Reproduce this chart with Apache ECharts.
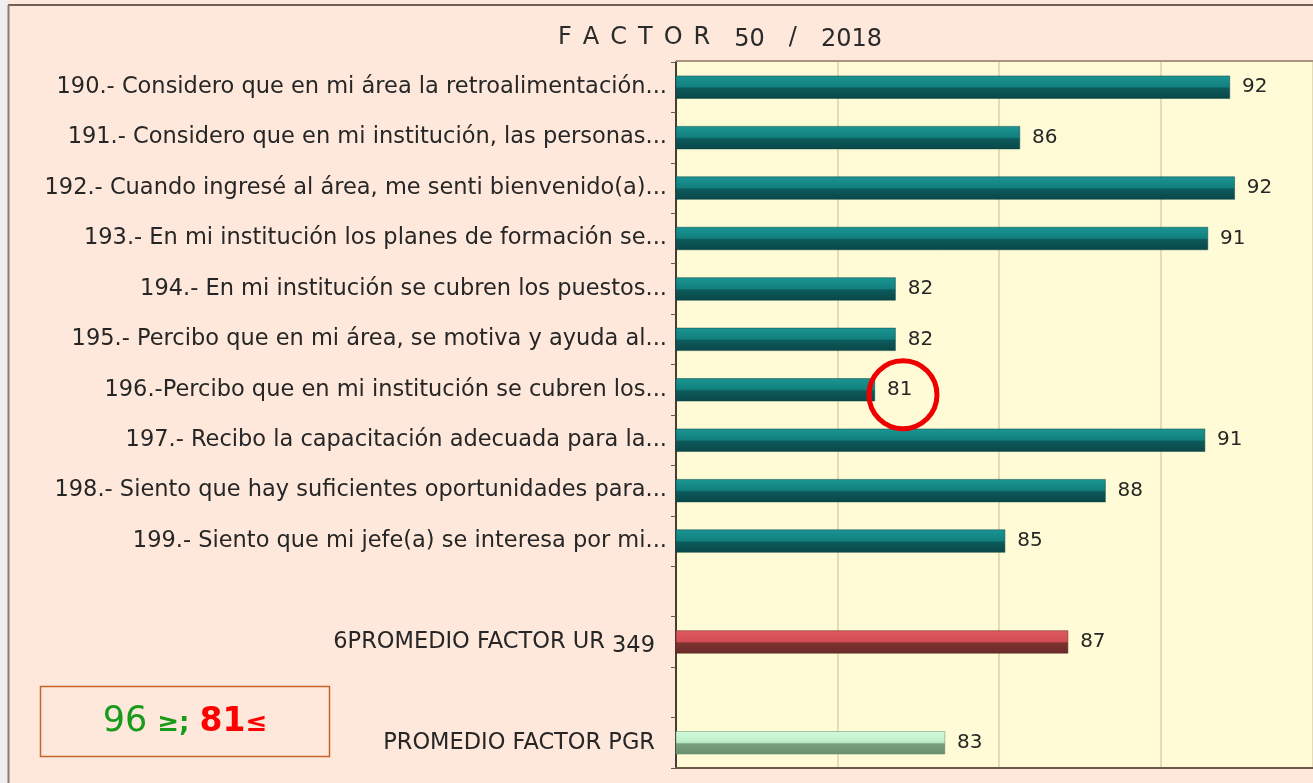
<!DOCTYPE html>
<html>
<head>
<meta charset="utf-8">
<script src="https://cdn.jsdelivr.net/npm/echarts@6/dist/echarts.min.js"></script>
<style>
html,body{margin:0;padding:0;background:#f4f2f0;}
#c{width:1313px;height:783px;}
</style>
</head>
<body>
<div id="c"></div>
<script>
const titleWord = 'FACTOR';
const titleRest = ['50', '/', '2018'];
const categories = [
  '190.- Considero que en mi área la retroalimentación...',
  '191.- Considero que en mi institución, las personas...',
  '192.- Cuando ingresé al área, me senti bienvenido(a)...',
  '193.- En mi institución los planes de formación se...',
  '194.- En mi institución se cubren los puestos...',
  '195.- Percibo que en mi área, se motiva y ayuda al...',
  '196.-Percibo que en mi institución se cubren los...',
  '197.- Recibo la capacitación adecuada para la...',
  '198.- Siento que hay suficientes oportunidades para...',
  '199.- Siento que mi jefe(a) se interesa por mi...',
  ' ',
  '6PROMEDIO FACTOR UR 349',
  '  ',
  'PROMEDIO FACTOR PGR'
];
const questionValues = [92.15, 85.65, 92.3, 91.47, 81.8, 81.8, 81.16, 91.38, 88.3, 85.19];
const urValue = 87.14;
const pgrValue = 83.33;
const xMin = 75;
const xMax = 94.72;
const xInterval = 5;
const legendGreen = ['96', '≥;'];
const legendRed = ['81', '≤'];
const highlightIndex = 6;

const qData = categories.map((c, i) => i < questionValues.length ? questionValues[i] : null);
const urData = categories.map((c, i) => i === 11 ? urValue : null);
const pgrData = categories.map((c, i) => i === 13 ? pgrValue : null);

const FONT = 'DejaVu Sans';
const LBL = 22.5;
function grad(c0, c1, c2, c3) {
  return new echarts.graphic.LinearGradient(0, 0, 0, 1, [
    {offset: 0, color: c0}, {offset: 0.48, color: c1},
    {offset: 0.55, color: c2}, {offset: 1, color: c3}
  ]);
}
const labelCommon = {
  show: true, position: 'right', distance: 12,
  fontFamily: FONT, fontSize: 20, color: '#262626',
  formatter: p => Math.round(p.value)
};

const titleRich = titleWord.split('').map((ch, i) =>
  '{' + (i < titleWord.length - 1 ? 'L' : 'E') + '|' + ch + '}').join('') +
  titleRest.map(t => '{' + (t === '/' ? 'S' : 'N') + '|' + t + '}').join('');

const chart = echarts.init(document.getElementById('c'));
chart.setOption({
  backgroundColor: '#fde8db',
  animation: false,
  graphic: [
    {type: 'rect', left: 0, top: 0, shape: {width: 8, height: 783}, style: {fill: '#f0eeee'}, z: 10},
    {type: 'line', shape: {x1: 8, y1: 5, x2: 1313, y2: 5}, style: {stroke: '#6e6058', lineWidth: 2}, z: 10},
    {type: 'line', shape: {x1: 8.5, y1: 5, x2: 8.5, y2: 783}, style: {stroke: '#8a7a70', lineWidth: 2}, z: 10},
    {type: 'line', shape: {x1: 676, y1: 61, x2: 1313, y2: 61}, style: {stroke: '#8a7a60', lineWidth: 1.5}, z: 10},
    {type: 'text', x: 720, y: 38, z: 11,
     style: {
       text: titleRich, align: 'center', verticalAlign: 'middle',
       rich: {
         L: {fontFamily: FONT, fontSize: 24, fill: '#2a2a2a', padding: [0, 11, 0, 0]},
         E: {fontFamily: FONT, fontSize: 24, fill: '#2a2a2a', padding: [0, 24, 0, 0]},
         N: {fontFamily: FONT, fontSize: 24, fill: '#2a2a2a', padding: [4, 0, 0, 0]},
         S: {fontFamily: FONT, fontSize: 24, fill: '#2a2a2a', padding: [0, 24, 0, 24]}
       }
     }},
    {type: 'rect', shape: {x: 40.5, y: 686.5, width: 289, height: 70},
     style: {fill: 'rgba(0,0,0,0)', stroke: '#c8642a', lineWidth: 1.5}, z: 10},
    {type: 'text', x: 185, y: 722, z: 11,
     style: {
       text: '{g|' + legendGreen[0] + '}{gs|' + legendGreen[1] + '}{r|' + legendRed[0] + '}{rs|' + legendRed[1] + '}',
       align: 'center', verticalAlign: 'middle',
       rich: {
         g: {fontFamily: FONT, fontSize: 35, fill: '#1a9a1a'},
         gs: {fontFamily: FONT, fontSize: 26, fontWeight: 'bold', fill: '#1a9a1a', padding: [4, 10, 0, 10]},
         r: {fontFamily: FONT, fontSize: 33, fontWeight: 'bold', fill: '#ff0000'},
         rs: {fontFamily: FONT, fontSize: 26, fontWeight: 'bold', fill: '#ff0000', padding: [4, 0, 0, 0]}
       }
     }}
  ],
  grid: {left: 676, right: 0, top: 62, bottom: 15, containLabel: false,
         show: true, backgroundColor: '#fffbd6', borderWidth: 0},
  xAxis: {
    type: 'value', min: xMin, max: xMax, interval: xInterval,
    axisLabel: {show: false}, axisTick: {show: false},
    axisLine: {show: true, lineStyle: {color: '#6b5a48', width: 2}},
    splitLine: {show: true, lineStyle: {color: '#ddd0a8', width: 1.5}}
  },
  yAxis: {
    type: 'category', data: categories, inverse: true,
    axisLine: {show: true, onZero: false, lineStyle: {color: '#4a3c30', width: 2}},
    axisTick: {show: true, length: 5, lineStyle: {color: '#6b5a48'}},
    axisLabel: {
      margin: 9, fontFamily: FONT, fontSize: LBL, color: '#262626',
      formatter: v => {
        if (v.indexOf('6PROMEDIO') === 0) return '{a|6PROMEDIO FACTOR UR }{s|349}';
        if (v.indexOf('PROMEDIO') === 0) return '{a|' + v + '}{pad|}';
        return v;
      },
      rich: {
        a: {fontFamily: FONT, fontSize: LBL, color: '#262626'},
        s: {fontFamily: FONT, fontSize: LBL, color: '#262626', padding: [8, 12, 0, 0]},
        pad: {width: 12}
      }
    }
  },
  series: [
    {
      name: 'Preguntas', type: 'bar', data: qData, barWidth: 23,
      itemStyle: {color: grad('#1b9593', '#11807e', '#0d5a5b', '#0a4748'),
                  borderColor: '#0a4445', borderWidth: 0.5},
      label: labelCommon,
      markPoint: {
        silent: true,
        symbol: 'circle', symbolSize: 68, symbolOffset: [28, 5],
        itemStyle: {color: 'rgba(0,0,0,0)', borderColor: '#ee0000', borderWidth: 5},
        label: {show: false},
        data: [{coord: [questionValues[highlightIndex], categories[highlightIndex]]}]
      }
    },
    {
      name: 'UR', type: 'bar', data: urData, barWidth: 23, barGap: '-100%',
      itemStyle: {color: grad('#e05a60', '#d24e54', '#7c3330', '#6a2a28'),
                  borderColor: '#5a2220', borderWidth: 0.5},
      label: labelCommon
    },
    {
      name: 'PGR', type: 'bar', data: pgrData, barWidth: 23, barGap: '-100%',
      itemStyle: {color: grad('#d2fbdc', '#bdeec8', '#78a07e', '#6a8f70'),
                  borderColor: '#5f8a66', borderWidth: 0.5},
      label: labelCommon
    }
  ]
});
</script>
</body>
</html>
